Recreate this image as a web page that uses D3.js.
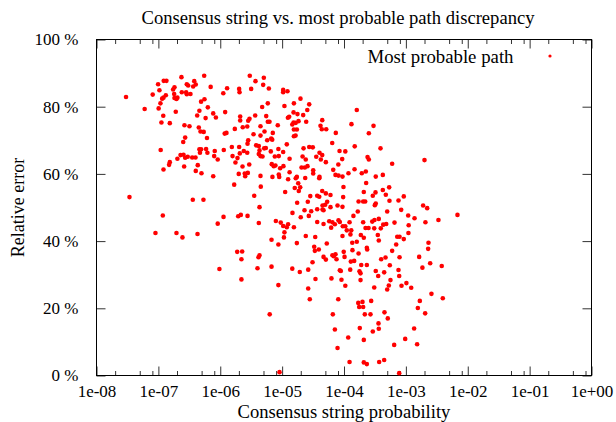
<!DOCTYPE html>
<html>
<head>
<meta charset="utf-8">
<script src="https://d3js.org/d3.v7.min.js"></script>
<style>
  body { margin: 0; background: #fff; }
  text { font-family: "Liberation Serif", "Times New Roman", serif; fill: #000; }
</style>
</head>
<body>
<div id="chart"></div>
<script>
var m = {t:39.5, r:24.5, b:46.5, l:96.5},
    W = 616, H = 422,
    w = W - m.l - m.r,
    h = H - m.t - m.b;

// relative error (%) vs consensus string probability, grouped by decade
var dec8 = [[3.0e-8,82.9],[6.0e-8,79.3],[8.1e-8,83.6],[9.9e-8,86.7],[3.41e-8,53.1],[8.97e-8,42.4]];

var dec7 = [[1.04e-7,84.9],[1.22e-7,87.7],[1.35e-7,87.7],[2.36e-7,88.8],[5.5e-7,89.2],[7.0e-7,85.9],[3.8e-7,87.6],
  [2.88e-7,86.7],[3.03e-7,86.3],[4.02e-7,86.6],[3.65e-7,86.0],[1.73e-7,85.1],[1.82e-7,85.8],[2.39e-7,84.3],[2.81e-7,84.3],
  [2.88e-7,83.7],[3.3e-7,83.8],[1.32e-7,83.4],[1.21e-7,82.7],[1.15e-7,82.4],[1.80e-7,83.8],[1.82e-7,82.6],[2.03e-7,82.7],
  [1.96e-7,82.3],[1.08e-7,81.0],[1.01e-7,79.5],[4.9e-7,81.5],[5.56e-7,82.2],[1.91e-7,78.5],[1.2e-7,77.3],[4.6e-7,78.8],
  [6.3e-7,79.8],[7.7e-7,78.0],[8.5e-7,76.8],[4.24e-7,77.4],[5.8e-7,76.6],[1.12e-7,75.3],[1.53e-7,75.1],[2.64e-7,74.5],
  [3.18e-7,74.2],[4.5e-7,73.8],[4.8e-7,72.6],[5.4e-7,72.5],[2.71e-7,70.8],[2.52e-7,69.5],[6.1e-7,70.7],[1.09e-7,67.1],
  [4.6e-7,67.3],[4.9e-7,67.3],[4.7e-7,66.3],[5.9e-7,67.4],[6.2e-7,66.3],[8.15e-7,66.8],[2.28e-7,65.6],[2.55e-7,65.7],
  [2.98e-7,65.1],[2.71e-7,64.8],[2.03e-7,64.5],[3.52e-7,64.9],[3.98e-7,64.9],[7.98e-7,65.3],[9.1e-7,64.3],[1.53e-7,63.5],
  [1.49e-7,62.7],[4.33e-7,62.6],[2.61e-7,62.2],[1.21e-7,61.3],[4.02e-7,60.9],[4.97e-7,60.2],[7.7e-7,59.3],[3.6e-7,52.3],
  [5.35e-7,52.3],[1.18e-7,47.6],[1.96e-7,42.4],[2.45e-7,41.1],[4.29e-7,42.1],[9.1e-7,45.2],[9.7e-7,31.7]];

var dec6 = [[3.0e-6,89.2],[5.06e-6,88.6],[3.71e-6,87.6],[4.94e-6,86.5],[1.29e-6,85.5],[2.02e-6,85.3],[2.05e-6,84.3],
  [3.16e-6,85.3],[6.1e-6,85.4],[1.12e-6,84.0],[5.87e-6,81.0],[4.76e-6,79.9],[1.2e-6,78.4],[3.67e-6,77.4],[2.1e-6,77.1],
  [5.53e-6,77.2],[2.97e-6,76.4],[2.83e-6,75.8],[2.1e-6,75.9],[5.87e-6,75.5],[6.25e-6,75.5],[8.5e-6,74.5],[4.47e-6,74.2],
  [2.73e-6,74.1],[2.31e-6,73.9],[1.72e-6,73.4],[5.19e-6,72.6],[1.26e-6,72.2],[1.18e-6,72.0],[7.07e-6,72.2],[3.45e-6,71.8],
  [4.47e-6,71.4],[6.66e-6,70.5],[2.83e-6,70.0],[5.74e-6,70.0],[6.92e-6,70.2],[2.76e-6,69.0],[3.81e-6,68.5],[4.2e-6,68.3],
  [1.54e-6,68.0],[2.02e-6,68.0],[5.45e-6,67.7],[8.7e-6,67.4],[1.14e-6,67.1],[2.4e-6,66.8],[2.73e-6,66.3],[4.31e-6,67.0],
  [5.13e-6,67.6],[6.56e-6,66.7],[2.07e-6,66.1],[1.58e-6,65.3],[1.9e-6,64.7],[1.76e-6,63.4],[4.47e-6,65.3],[4.82e-6,65.2],
  [4.2e-6,65.9],[7.62e-6,65.2],[8.83e-6,65.3],[2.29e-6,62.2],[2.94e-6,62.8],[6.8e-6,62.9],[7.33e-6,62.3],[7.8e-6,62.5],
  [9.3e-6,61.7],[1.99e-6,60.0],[2.49e-6,60.1],[2.79e-6,60.3],[2.53e-6,59.3],[4.47e-6,59.4],[6.97e-6,59.1],[8.83e-6,59.8],
  [8.97e-6,59.1],[1.68e-6,56.8],[4.52e-6,56.2],[3.54e-6,53.5],[4.31e-6,50.1],[1.13e-6,47.2],[1.95e-6,47.4],[2.15e-6,47.8],
  [2.76e-6,47.5],[4.2e-6,45.4],[7.92e-6,46.0],[9.5e-6,45.5],[6.74e-6,40.4],[8.7e-6,39.0],[1.88e-6,36.8],[2.26e-6,36.9],
  [2.2e-6,34.6],[4.15e-6,35.2],[4.31e-6,35.8],[4.0e-6,31.9],[6.74e-6,32.4],[2.2e-6,28.6],[8.7e-6,26.9],[6.3e-6,18.2],
  [9.08e-6,1.0]];

var dec5 = [[1.04e-5,85.0],[1.04e-5,84.3],[1.22e-5,84.6],[1.98e-5,82.4],[1.55e-5,81.0],[2.74e-5,80.7],[1.09e-5,80.2],
  [2.55e-5,79.0],[1.53e-5,78.3],[1.77e-5,77.8],[2.19e-5,77.5],[1.24e-5,76.7],[1.30e-5,77.0],[1.84e-5,75.7],[2.45e-5,75.5],
  [1.53e-5,75.3],[1.66e-5,75.2],[4.45e-5,76.0],[1.46e-5,74.7],[4.17e-5,74.3],[4.38e-5,73.3],[5.16e-5,73.3],[1.55e-5,73.2],
  [1.73e-5,73.2],[1.65e-5,71.4],[1.55e-5,71.2],[7.37e-5,72.2],[1.19e-5,68.8],[6.45e-5,69.2],[2.22e-5,67.6],[2.74e-5,68.0],
  [3.13e-5,67.9],[1.04e-5,66.5],[8.47e-5,66.8],[4.02e-5,66.3],[4.45e-5,65.6],[1.32e-5,64.5],[2.14e-5,65.2],[2.41e-5,64.3],
  [3.56e-5,65.1],[4.22e-5,64.3],[5.09e-5,63.5],[1.05e-5,62.3],[2.06e-5,61.9],[2.33e-5,61.9],[2.57e-5,62.3],[8.1e-5,62.8],
  [6.7e-5,61.2],[3.18e-5,61.1],[1.32e-5,60.5],[1.25e-5,58.4],[1.73e-5,59.1],[1.66e-5,58.7],[2.36e-5,58.8],[3.18e-5,60.1],
  [4.02e-5,59.1],[3.98e-5,58.7],[7.29e-5,59.7],[8.15e-5,59.5],[1.82e-5,57.2],[1.96e-5,56.0],[1.6e-5,55.8],[4.45e-5,54.9],
  [1.86e-5,54.9],[1.12e-5,54.6],[2.85e-5,53.4],[3.69e-5,53.5],[3.98e-5,53.2],[5.09e-5,54.2],[6.05e-5,53.7],[1.75e-5,51.4],
  [2.6e-5,51.7],[5.35e-5,51.7],[4.5e-5,50.6],[4.97e-5,50.8],[4.5e-5,49.4],[4.67e-5,49.2],[6.05e-5,50.1],[7.86e-5,50.6],
  [3.69e-5,49.5],[2.3e-5,49.2],[2.95e-5,48.9],[1.47e-5,48.4],[2.7e-5,47.5],[2.0e-5,47.1],[1.04e-5,44.5],[1.25e-5,45.0],
  [1.19e-5,44.1],[1.55e-5,44.1],[3.69e-5,45.7],[4.67e-5,45.1],[5.77e-5,45.9],[6.5e-5,45.6],[8.15e-5,46.2],[8.56e-5,45.7],
  [6.2e-5,44.0],[7.12e-5,45.0],[1.09e-5,42.6],[1.07e-5,41.1],[1.73e-5,39.4],[2.41e-5,41.5],[3.43e-5,41.2],[5.27e-5,39.3],
  [3.3e-5,38.3],[3.38e-5,37.1],[3.92e-5,37.5],[4.67e-5,35.3],[5.09e-5,34.5],[6.5e-5,35.8],[7.29e-5,36.1],[6.83e-5,35.5],
  [7.57e-5,34.6],[3.1e-5,33.7],[1.46e-5,31.8],[1.93e-5,30.8],[2.64e-5,31.5],[8.56e-5,31.3],[3.46e-5,28.7],[6.27e-5,28.9],
  [2.64e-5,25.9],[2.8e-5,22.7],[8.08e-5,22.7],[6.6e-5,18.2],[7.12e-5,13.7],[7.86e-5,8.2],[9.35e-5,64.4],[9.45e-5,59.2],
  [9.8e-5,56.1],[9.7e-5,53.1],[9.45e-5,50.2],[9.56e-5,44.4],[9.45e-5,41.5],[9.9e-5,36.8],[8.9e-5,31.1],[9.1e-5,28.5]];

var dec4 = [[1.61e-4,79.0],[1.32e-4,74.8],[3.0e-4,74.3],[2.52e-4,72.1],[1.05e-4,66.7],[1.49e-4,68.2],[3.89e-4,67.6],
  [2.4e-4,65.0],[2.52e-4,64.3],[6.0e-4,63.0],[1.48e-4,61.4],[1.18e-4,60.2],[1.94e-4,60.2],[2.25e-4,60.7],[3.26e-4,59.2],
  [4.24e-4,59.7],[2.28e-4,57.3],[2.09e-4,54.6],[3.23e-4,54.5],[2.92e-4,53.5],[4.24e-4,55.2],[4.74e-4,53.8],[5.37e-4,56.0],
  [9.25e-4,53.3],[7.6e-4,52.1],[5.43e-4,52.0],[1.72e-4,51.8],[2.04e-4,51.8],[2.2e-4,51.8],[3.26e-4,51.2],[3.15e-4,50.7],
  [4.99e-4,48.8],[1.67e-4,48.8],[1.42e-4,47.5],[8.4e-4,49.3],[3.65e-4,46.6],[3.11e-4,46.3],[1.05e-4,44.4],[1.11e-4,43.2],
  [1.31e-4,43.2],[1.23e-4,45.6],[1.27e-4,42.0],[2.04e-4,45.6],[2.23e-4,43.9],[2.49e-4,43.9],[2.86e-4,45.8],[3.08e-4,43.8],
  [4.3e-4,44.9],[4.81e-4,45.1],[3.93e-4,43.8],[6.55e-4,45.5],[9.25e-4,40.6],[7.25e-4,41.3],[7.9e-4,41.3],[6.97e-4,39.0],
  [6.0e-4,37.1],[3.52e-4,41.8],[3.65e-4,40.2],[2.09e-4,41.0],[1.87e-4,41.8],[1.61e-4,39.8],[1.36e-4,39.5],[1.37e-4,37.3],
  [1.72e-4,36.3],[2.34e-4,38.0],[2.37e-4,37.5],[1.02e-4,35.3],[1.29e-4,33.9],[1.46e-4,34.1],[3.99e-4,34.6],[4.69e-4,35.1],
  [7.9e-4,35.2],[5.5e-4,32.8],[1.9e-4,32.9],[2.34e-4,32.9],[1.26e-4,31.5],[1.78e-4,31.0],[1.85e-4,30.4],[1.85e-4,28.4],
  [3.26e-4,31.1],[4.46e-4,30.7],[3.57e-4,29.6],[7.6e-4,31.4],[7.8e-4,29.6],[5.64e-4,28.4],[5.3e-4,26.8],[4.99e-4,25.6],
  [3.08e-4,26.2],[8.5e-4,26.7],[1.05e-4,26.7],[1.7e-4,21.6],[1.99e-4,21.9],[1.76e-4,20.4],[2.04e-4,20.4],[2.75e-4,22.2],
  [2.17e-4,18.2],[2.68e-4,18.2],[4.51e-4,18.8],[5.1e-4,17.0],[1.8e-4,14.1],[3.61e-4,15.5],[3.65e-4,13.9],[2.92e-4,13.1],
  [1.17e-4,11.3],[2.09e-4,10.6],[9.75e-4,10.9],[6.47e-4,9.1],[1.23e-4,4.0],[2.09e-4,3.9],[2.34e-4,3.4],[3.7e-4,4.0],
  [4.46e-4,4.6],[7.8e-4,0.7]];

var dec3 = [[2.0e-3,64.1],[1.9e-3,50.6],[2.21e-3,49.8],[1.09e-3,47.6],[1.38e-3,46.8],[3.36e-3,46.3],[6.82e-3,47.8],
  [1.11e-3,44.7],[1.1e-3,42.4],[1.64e-3,35.3],[2.32e-3,39.5],[2.29e-3,37.7],[2.47e-3,33.4],[1.85e-3,32.1],[3.8e-3,32.6],
  [2.07e-3,45.6],[1.02e-3,27.5],[1.22e-3,26.1],[2.59e-3,24.3],[3.95e-3,23.0],[1.68e-3,22.2],[1.56e-3,20.1],[2.05e-3,18.5],
  [1.36e-3,14.0],[1.52e-3,9.3]];

var points = [].concat(dec8, dec7, dec6, dec5, dec4, dec3);

var xTicks = [1e-8,1e-7,1e-6,1e-5,1e-4,1e-3,1e-2,1e-1,1e0],
    xTickLabels = ["1e-08","1e-07","1e-06","1e-05","1e-04","1e-03","1e-02","1e-01","1e+00"],
    yTicks = [0,20,40,60,80,100];

var svg = d3.select("#chart")
  .append("svg")
  .attr("width", W)
  .attr("height", H)
  .append("g")
  .attr("transform", "translate(" + m.l + "," + m.t + ")");

var x = d3.scaleLog().domain([1e-8, 1]).range([0, w]),
    y = d3.scaleLinear().domain([0, 100]).range([h, 0]);

// minor ticks at 2, 5, 8 in each decade
var minor = [];
xTicks.slice(0, -1).forEach(function(t){ [2,5,8].forEach(function(k){ minor.push(t*k); }); });

// axes: ticks point inward, mirrored on top / right
function tickLines(g){ g.select(".domain").remove(); g.selectAll("line").attr("stroke", "#333"); }

svg.append("g")
  .attr("transform", "translate(0," + h + ")")
  .call(d3.axisBottom(x).tickValues(xTicks).tickSize(-9).tickFormat(function(d, i){ return xTickLabels[i]; }))
  .call(tickLines)
  .selectAll("text")
    .attr("y", 9).attr("dy", "0.71em")
    .style("font-size", "17px");

svg.append("g")
  .attr("transform", "translate(0," + h + ")")
  .call(d3.axisBottom(x).tickValues(minor).tickSize(-4.5).tickFormat(""))
  .call(tickLines);

svg.append("g")
  .call(d3.axisTop(x).tickValues(xTicks).tickSize(-9).tickFormat(""))
  .call(tickLines);
svg.append("g")
  .call(d3.axisTop(x).tickValues(minor).tickSize(-4.5).tickFormat(""))
  .call(tickLines);

svg.append("g")
  .call(d3.axisLeft(y).tickValues(yTicks).tickSize(-9).tickFormat(function(d){ return d + " %"; }))
  .call(tickLines)
  .selectAll("text")
    .attr("x", -18)
    .style("font-size", "17px");

svg.append("g")
  .attr("transform", "translate(" + w + ",0)")
  .call(d3.axisRight(y).tickValues(yTicks).tickSize(-9).tickFormat(""))
  .call(tickLines);

svg.selectAll(".tick text").attr("font-family", null);

// frame
svg.append("rect")
  .attr("width", w).attr("height", h)
  .attr("fill", "none").attr("stroke", "#000").attr("stroke-width", 1);

// points
svg.append("g").selectAll("circle")
  .data(points)
  .enter().append("circle")
    .attr("cx", function(d){ return x(d[0]); })
    .attr("cy", function(d){ return y(d[1]); })
    .attr("r", 2.3)
    .attr("fill", "#ff0000");

// legend
svg.append("text")
  .attr("x", 417).attr("y", 17).attr("dy", "0.35em")
  .attr("text-anchor", "end")
  .style("font-size", "18.8px")
  .text("Most probable path");
svg.append("circle")
  .attr("cx", 453.5).attr("cy", 16.5).attr("r", 1.6).attr("fill", "#ff0000");

// titles
svg.append("text")
  .attr("x", 241.5).attr("y", -22).attr("dy", "0.35em")
  .attr("text-anchor", "middle")
  .style("font-size", "18.6px")
  .text("Consensus string vs. most probable path discrepancy");

svg.append("text")
  .attr("x", w/2).attr("y", h + 36).attr("dy", "0.35em")
  .attr("text-anchor", "middle")
  .style("font-size", "18.6px")
  .text("Consensus string probability");

svg.append("text")
  .attr("transform", "translate(" + (-79) + "," + (h/2) + ") rotate(-90)")
  .attr("dy", "0.35em")
  .attr("text-anchor", "middle")
  .style("font-size", "18px")
  .text("Relative error");
</script>
</body>
</html>
